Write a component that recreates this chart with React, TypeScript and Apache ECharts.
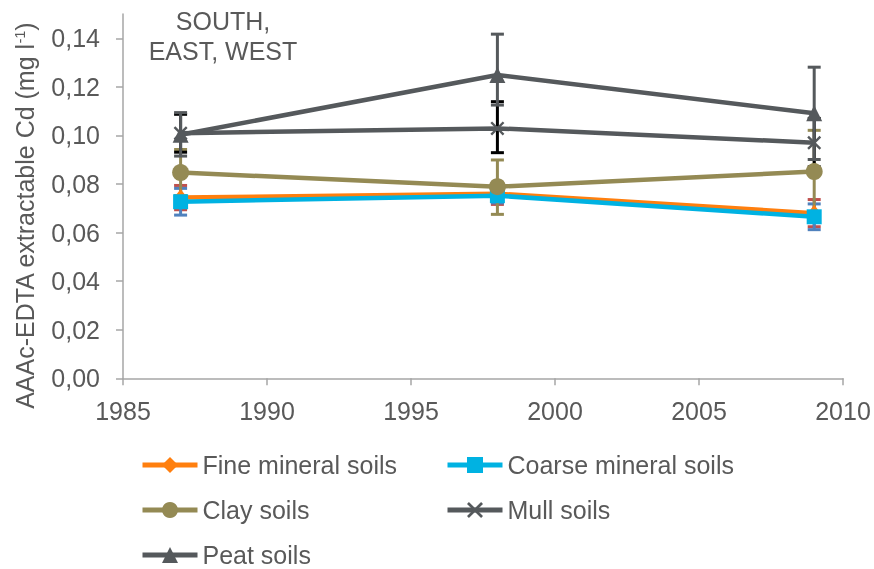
import React, { useEffect, useRef } from "react";
import * as echarts from "echarts";

const years = [1987, 1998, 2009];
const seriesNames = ["Fine mineral soils", "Coarse mineral soils", "Clay soils", "Mull soils", "Peat soils"];

const fineValues = [0.0744, 0.076, 0.068];
const fineErrPlus = [0.005, 0.0044, 0.0056];
const fineErrMinus = [0.005, 0.0044, 0.0056];

const coarseValues = [0.0727, 0.0752, 0.0665];
const coarseErrPlus = [0.0055, 0.003, 0.0053];
const coarseErrMinus = [0.0055, 0.003, 0.0053];

const clayValues = [0.0847, 0.0789, 0.0851];
const clayErrPlus = [0.0095, 0.011, 0.017];
const clayErrMinus = [0.0095, 0.0114, 0.017];

const mullValues = [0.1009, 0.1029, 0.097];
const mullErrPlus = [0.0078, 0.011, 0.01];
const mullErrMinus = [0.0078, 0.01, 0.0099];

const peatValues = [0.1003, 0.1249, 0.1091];
const peatErrPlus = [0.0091, 0.0168, 0.019];
const peatErrMinus = [0.0088, 0.0124, 0.019];

const yTicks = [0, 0.02, 0.04, 0.06, 0.08, 0.1, 0.12, 0.14];

const FONT = "'Liberation Sans', Arial, sans-serif";
const TEXT = "#595959";

const crossPath =
  "path://M0,1.2 L1.2,0 L5,3.8 L8.8,0 L10,1.2 L6.2,5 L10,8.8 L8.8,10 L5,6.2 L1.2,10 L0,8.8 L3.8,5 Z";

export default function App() {
  const ref = useRef<HTMLDivElement>(null);
  useEffect(() => {
    if (!ref.current) return;
    const chart = echarts.init(ref.current, undefined, { renderer: "svg" });

    const defs = [
      { name: seriesNames[0], vals: fineValues, ep: fineErrPlus, em: fineErrMinus, color: "#FF7F0E", errColor: "#C0504D", symbol: "diamond", size: [13, 17] },
      { name: seriesNames[1], vals: coarseValues, ep: coarseErrPlus, em: coarseErrMinus, color: "#00B2E2", errColor: "#4F81BD", symbol: "rect", size: 15 },
      { name: seriesNames[2], vals: clayValues, ep: clayErrPlus, em: clayErrMinus, color: "#948A54", errColor: "#948A54", symbol: "circle", size: 17 },
      { name: seriesNames[3], vals: mullValues, ep: mullErrPlus, em: mullErrMinus, color: "#55595C", errColor: "#000000", symbol: crossPath, size: 14 },
      { name: seriesNames[4], vals: peatValues, ep: peatErrPlus, em: peatErrMinus, color: "#55595C", errColor: "#55595C", symbol: "triangle", size: 16 },
    ];

    const errSeries = defs.map((d) => ({
      type: "custom",
      name: d.name + " err",
      z: 1,
      silent: true,
      encode: { x: 0, y: [1, 2] },
      data: years.map((yr, k) => [yr, d.vals[k] - d.em[k], d.vals[k] + d.ep[k]]),
      renderItem: (params: any, api: any) => {
        const x = api.value(0);
        const lo = api.coord([x, api.value(1)]);
        const hi = api.coord([x, api.value(2)]);
        const cw = 6.5;
        const style = { stroke: d.errColor, lineWidth: 3, fill: null };
        return {
          type: "group",
          children: [
            { type: "line", shape: { x1: lo[0], y1: lo[1], x2: hi[0], y2: hi[1] }, style },
            { type: "line", shape: { x1: lo[0] - cw, y1: lo[1], x2: lo[0] + cw, y2: lo[1] }, style },
            { type: "line", shape: { x1: hi[0] - cw, y1: hi[1], x2: hi[0] + cw, y2: hi[1] }, style },
          ],
        };
      },
    }));

    const lineSeries = defs.map((d, i) => ({
      type: "line",
      name: d.name,
      z: 3 + i,
      data: years.map((yr, k) => [yr, d.vals[k]]),
      symbol: d.symbol,
      symbolSize: d.size,
      showAllSymbol: true,
      lineStyle: { color: d.color, width: 4.5 },
      itemStyle: { color: d.color, borderWidth: 0 },
      emphasis: { disabled: true },
    }));

    const legendCommon = {
      orient: "vertical",
      itemWidth: 55,
      itemHeight: 20,
      itemGap: 20,
      padding: 0,
      height: 130,
      selectedMode: false,
      lineStyle: { width: 5 },
      textStyle: { fontFamily: FONT, fontSize: 25, color: TEXT, lineHeight: 25 },
    };

    chart.setOption({
      animation: false,
      textStyle: { fontFamily: FONT },
      grid: { left: 123, right: 31, top: 14, bottom: 190.7, containLabel: false },
      xAxis: {
        type: "value",
        min: 1985,
        max: 2010,
        interval: 5,
        splitLine: { show: false },
        axisLine: { lineStyle: { color: "#A6A6A6", width: 1.5 } },
        axisTick: { length: 7, lineStyle: { color: "#A6A6A6", width: 1.5 } },
        axisLabel: { fontSize: 25, color: TEXT, margin: 20, fontFamily: FONT, formatter: (v: number) => String(v) },
      },
      yAxis: {
        type: "value",
        min: 0,
        max: 0.15,
        interval: 0.02,
        splitLine: { show: false },
        axisLine: { show: true, lineStyle: { color: "#A6A6A6", width: 1.5 } },
        axisTick: { show: true, length: 7, customValues: yTicks, lineStyle: { color: "#A6A6A6", width: 1.5 } },
        axisLabel: {
          fontSize: 25,
          color: TEXT,
          margin: 23,
          fontFamily: FONT,
          customValues: yTicks,
          formatter: (v: number) => v.toFixed(2).replace(".", ","),
        },
      },
      legend: [
        { ...legendCommon, left: 140, top: 452.5, data: [seriesNames[0], seriesNames[2], seriesNames[4]] },
        { ...legendCommon, left: 445, top: 452.5, data: [seriesNames[1], seriesNames[3]] },
      ],
      graphic: [
        {
          type: "text",
          x: 223,
          y: 36,
          style: {
            text: "SOUTH,\nEAST, WEST",
            fontFamily: FONT,
            fontSize: 25,
            lineHeight: 30,
            fill: TEXT,
            textAlign: "center",
            textVerticalAlign: "middle",
          },
        },
        {
          type: "text",
          x: 25,
          y: 216,
          rotation: Math.PI / 2,
          style: {
            text: "AAAc-EDTA extractable Cd (mg l{sup|-1})",
            fontFamily: FONT,
            fontSize: 25,
            fill: TEXT,
            textAlign: "center",
            textVerticalAlign: "middle",
            rich: {
              sup: { fontSize: 14, fontFamily: FONT, fill: TEXT, verticalAlign: "top", padding: [0, 0, 10, 0] },
            },
          },
        },
      ],
      series: [...errSeries, ...lineSeries],
    });
    return () => chart.dispose();
  }, []);
  return <div ref={ref} style={{ position: "fixed", left: 0, top: 0, width: 874, height: 569 }} />;
}
